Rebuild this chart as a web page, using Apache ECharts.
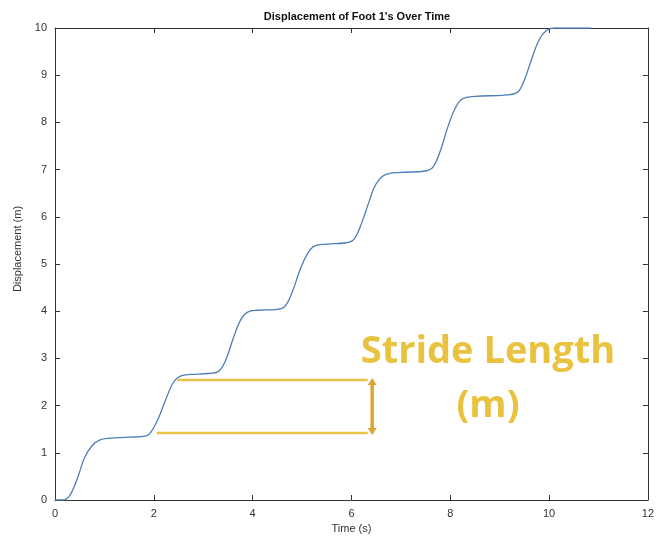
<!DOCTYPE html>
<html>
<head>
<meta charset="utf-8">
<script src="https://cdn.jsdelivr.net/npm/echarts@6/dist/echarts.min.js"></script>
<style>
  html, body { margin: 0; padding: 0; background: #fff; }
  #chart { width: 657px; height: 544px; }
</style>
</head>
<body>
<div id="chart"></div>
<script>
// values: time (s), displacement (m)
var timeS = [0, 0.15, 0.3, 0.45, 0.6, 0.75, 0.9, 1.1, 1.5, 1.85, 1.95, 2.1, 2.25, 2.4, 2.55, 2.75, 3.1, 3.3,
    3.45, 3.6, 3.75, 3.9, 4.1, 4.5, 4.65, 4.8, 4.95, 5.1, 5.25, 5.5, 5.9, 6.05, 6.2, 6.35, 6.5, 6.7, 7.0,
    7.5, 7.65, 7.8, 7.95, 8.1, 8.25, 8.5, 9.1, 9.35, 9.5, 9.65, 9.8, 9.95, 10.1, 10.85];
var dispM = [0, 0, 0.1, 0.45, 0.9, 1.15, 1.27, 1.31, 1.33, 1.36, 1.45, 1.75, 2.15, 2.5, 2.63, 2.66, 2.68, 2.72,
    2.95, 3.4, 3.8, 3.98, 4.02, 4.04, 4.1, 4.4, 4.85, 5.2, 5.38, 5.42, 5.45, 5.52, 5.85, 6.3, 6.7, 6.9, 6.94,
    6.97, 7.05, 7.4, 7.9, 8.3, 8.5, 8.55, 8.58, 8.63, 8.9, 9.35, 9.75, 9.95, 10, 10];

// stride length annotation
var strideUpper = [[2.47, 2.54], [6.33, 2.54]];
var strideLower = [[2.06, 1.42], [6.33, 1.42]];
var strideArrow = [[6.42, 1.45], [6.42, 2.51]];

var xTicks = { min: 0, max: 12, interval: 2 };
var yTicks = { min: 0, max: 10, interval: 1 };

window.onload = function () {
    var chartDom = document.getElementById('chart');
    var myChart = echarts.init(chartDom);

    var axisLine = { show: true, onZero: false, lineStyle: { color: '#333', width: 1 } };
    var tickIn = { show: true, inside: true, length: 5, lineStyle: { color: '#333' } };
    var lab = { color: '#333', fontSize: 11, fontFamily: 'Liberation Sans' };

    var pts = timeS.map(function (t, i) { return [t, dispM[i]]; });

    var option = {
        animation: false,
        title: {
            text: "Displacement of Foot 1's Over Time",
            left: 352,
            textAlign: 'center',
            top: 6,
            textStyle: { fontSize: 11, fontWeight: 'bold', color: '#111', fontFamily: 'Liberation Sans' }
        },
        grid: { left: 55, right: 9, top: 28, bottom: 44 },
        xAxis: [
            {
                type: 'value', min: xTicks.min, max: xTicks.max, interval: xTicks.interval,
                axisLine: axisLine, axisTick: tickIn, splitLine: { show: false },
                axisLabel: lab,
                name: 'Time (s)', nameLocation: 'middle', nameGap: 21,
                nameTextStyle: { color: '#333', fontSize: 11, fontFamily: 'Liberation Sans' }
            },
            {
                type: 'value', position: 'top', min: xTicks.min, max: xTicks.max, interval: xTicks.interval,
                axisLine: axisLine, axisTick: tickIn, splitLine: { show: false }, axisLabel: { show: false }
            }
        ],
        yAxis: [
            {
                type: 'value', min: yTicks.min, max: yTicks.max, interval: yTicks.interval,
                axisLine: axisLine, axisTick: tickIn, splitLine: { show: false },
                axisLabel: lab,
                name: 'Displacement (m)', nameLocation: 'middle', nameGap: 31,
                nameTextStyle: { color: '#333', fontSize: 11, fontFamily: 'Liberation Sans', padding: [0, 0, 0, 30] }
            },
            {
                type: 'value', position: 'right', min: yTicks.min, max: yTicks.max, interval: yTicks.interval,
                axisLine: axisLine, axisTick: tickIn, splitLine: { show: false }, axisLabel: { show: false }
            }
        ],
        series: [
            {
                name: 'Displacement',
                type: 'line',
                data: pts,
                smooth: 0.4,
                showSymbol: false,
                lineStyle: { color: '#4a7fb8', width: 1.3 }
            },
            {
                type: 'line', data: strideUpper, showSymbol: false,
                lineStyle: { color: '#e9c24a', width: 2.5 }
            },
            {
                type: 'line', data: strideLower, showSymbol: false,
                lineStyle: { color: '#e9c24a', width: 2.5 }
            },
            {
                type: 'line',
                data: [
                    { value: strideArrow[0], symbolRotate: 180 },
                    { value: strideArrow[1], symbolRotate: 0 }
                ],
                symbol: 'triangle', symbolSize: [9, 7],
                itemStyle: { color: '#dea536' },
                lineStyle: { color: '#dea536', width: 3.5 }
            }
        ],
        graphic: [
            {
                type: 'text', x: 488, y: 333,
                style: { text: 'Stride Length', fill: '#e9c240', font: 'bold 38px "Open Sans"', textAlign: 'center' }
            },
            {
                type: 'text', x: 488, y: 387,
                style: { text: '(m)', fill: '#e9c240', font: 'bold 38px "Open Sans"', textAlign: 'center' }
            }
        ]
    };

    myChart.setOption(option);
};
</script>
</body>
</html>
